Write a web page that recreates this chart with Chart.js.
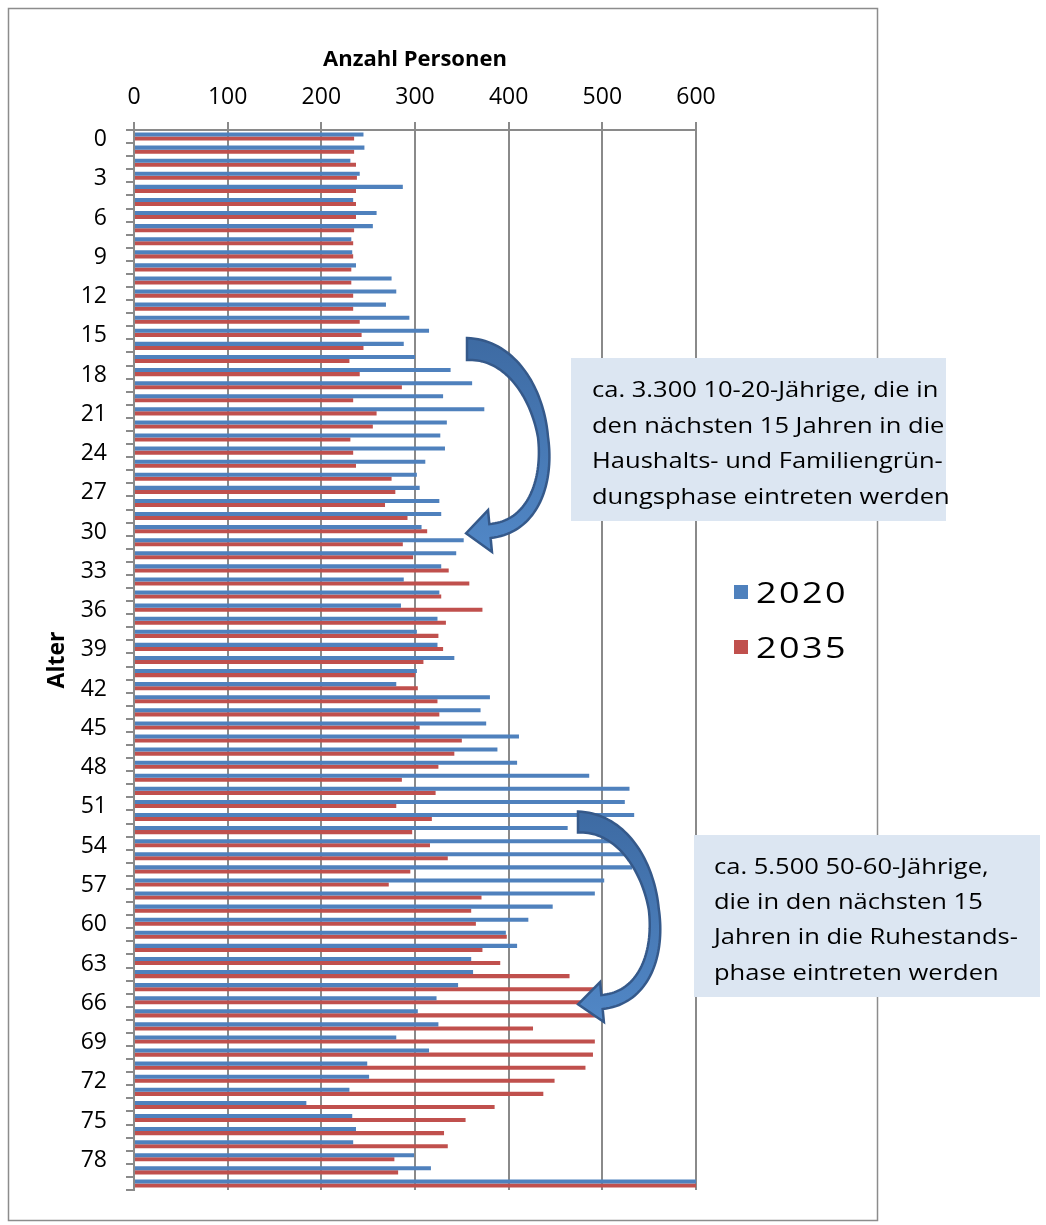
<!DOCTYPE html>
<html>
<head>
<meta charset="utf-8">
<script src="https://cdn.jsdelivr.net/npm/chart.js@4.4.0/dist/chart.umd.min.js"></script>
<style>
html,body{margin:0;padding:0;background:#fff;}
#wrap{width:1046px;height:1225px;position:relative;}
canvas{display:block;}
</style>
</head>
<body>
<div id="wrap"><canvas id="c" width="1046" height="1225"></canvas></div>
<script>
// ---- data ----
const ages = ['0','1','2','3','4','5','6','7','8','9','10','11','12','13','14','15','16','17','18','19','20',
  '21','22','23','24','25','26','27','28','29','30','31','32','33','34','35','36','37','38','39','40',
  '41','42','43','44','45','46','47','48','49','50','51','52','53','54','55','56','57','58','59','60',
  '61','62','63','64','65','66','67','68','69','70','71','72','73','74','75','76','77','78','79','80'];
const values2020 = [245,246,231,241,287,234,259,255,232,233,237,275,280,269,294,315,288,300,338,361,330,
  374,334,327,332,311,302,305,326,328,307,352,344,328,288,326,285,324,302,324,342,
  302,280,380,370,376,411,388,409,486,529,524,534,463,527,528,532,502,492,447,421,
  397,409,360,362,346,323,303,325,280,315,249,251,230,184,233,237,234,299,317,720];
const values2035 = [235,235,237,238,237,237,237,235,234,234,232,232,234,234,241,243,245,230,241,286,234,
  259,255,231,234,237,275,279,268,292,313,287,298,336,358,328,372,333,325,330,309,
  300,303,324,326,305,350,342,325,286,322,280,318,297,316,335,295,272,371,360,365,
  398,372,391,465,498,494,500,426,492,490,482,449,437,385,354,331,335,278,282,760];
const seriesNames = ['2020','2035'];
const xTickValues = [0,100,200,300,400,500,600];
const labelEvery = 3;
const xTitle = 'Anzahl Personen';
const yTitle = 'Alter';
const note1 = ['ca. 3.300 10-20-Jährige, die in','den nächsten 15 Jahren in die','Haushalts- und Familiengrün-','dungsphase eintreten werden'];
const note2 = ['ca. 5.500 50-60-Jährige,','die in den nächsten 15','Jahren in die Ruhestands-','phase eintreten werden'];

const BLUE = '#4F81BD', RED = '#C0504D', GRID = '#8a8a8a';
const FONT = "'Open Sans', 'Noto Sans', sans-serif";

// ---- helpers for decoration ----
function bez(p0,p1,p2,p3,t){const u=1-t;return [u*u*u*p0[0]+3*u*u*t*p1[0]+3*u*t*t*p2[0]+t*t*t*p3[0],u*u*u*p0[1]+3*u*u*t*p1[1]+3*u*t*t*p2[1]+t*t*t*p3[1]];}
function bezD(p0,p1,p2,p3,t){const u=1-t;return [3*u*u*(p1[0]-p0[0])+6*u*t*(p2[0]-p1[0])+3*t*t*(p3[0]-p2[0]),3*u*u*(p1[1]-p0[1])+6*u*t*(p2[1]-p1[1])+3*t*t*(p3[1]-p2[1])];}
function drawArrow(ctx,a){
  const N=80,outer=[],inner=[];
  let lastD,lastN;
  for(let i=0;i<=N;i++){
    const t=i/N;const P=bez(a.p0,a.p1,a.p2,a.p3,t);const D=bezD(a.p0,a.p1,a.p2,a.p3,t);
    const L=Math.hypot(D[0],D[1]);const d=[D[0]/L,D[1]/L];const n=[d[1],-d[0]];
    const w=t<0.5?a.w0+(a.wm-a.w0)*(t/0.5):a.wm+(a.w1-a.wm)*((t-0.5)/0.5);
    outer.push([P[0]+n[0]*w,P[1]+n[1]*w]);inner.push([P[0]-n[0]*w,P[1]-n[1]*w]);
    lastD=d;lastN=n;
  }
  const E=a.p3;
  ctx.save();
  const g=ctx.createLinearGradient(0,a.p0[1]-15,0,a.p3[1]+20);
  g.addColorStop(0,'#3d6aa2');g.addColorStop(1,'#5187c6');
  ctx.beginPath();
  ctx.moveTo(outer[0][0],outer[0][1]);
  for(let i=1;i<=N;i++)ctx.lineTo(outer[i][0],outer[i][1]);
  ctx.lineTo(E[0]+lastN[0]*a.hh,E[1]+lastN[1]*a.hh);
  ctx.lineTo(E[0]+lastD[0]*a.hl,E[1]+lastD[1]*a.hl);
  ctx.lineTo(E[0]-lastN[0]*a.hh,E[1]-lastN[1]*a.hh);
  for(let i=N;i>=0;i--)ctx.lineTo(inner[i][0],inner[i][1]);
  ctx.closePath();
  ctx.fillStyle=g;ctx.fill();
  ctx.lineWidth=2.5;ctx.strokeStyle='#35598a';ctx.lineJoin='miter';ctx.stroke();
  ctx.restore();
}
function stretchedText(ctx,text,x,y,sx){
  ctx.save();ctx.translate(x,y);ctx.scale(sx,1);ctx.fillText(text,0,0);ctx.restore();
}
function drawNote(ctx,box,lines,tx,baselines){
  ctx.save();
  ctx.fillStyle='#DCE6F2';
  ctx.fillRect(box[0],box[1],box[2],box[3]);
  ctx.fillStyle='#000';
  ctx.font='22px '+FONT;
  ctx.textBaseline='alphabetic';ctx.textAlign='left';
  lines.forEach((l,i)=>stretchedText(ctx,l,tx,baselines[i],1.16));
  ctx.restore();
}

const decoPlugin = {
  id:'deco',
  beforeDraw(chart){
    const ctx=chart.ctx;
    ctx.save();
    ctx.fillStyle='#fff';ctx.fillRect(0,0,chart.width,chart.height);
    ctx.strokeStyle='#8c8c8c';ctx.lineWidth=1.5;
    ctx.strokeRect(8.5,8.5,869,1212);
    ctx.restore();
  },
  afterDraw(chart){
    const ctx=chart.ctx;
    // arrows
    drawArrow(ctx,{p0:[467,349],p1:[553,349],p2:[576,523],p3:[490,531],w0:11,wm:5,w1:7,hh:21,hl:24});
    drawArrow(ctx,{p0:[578,822],p1:[663,822],p2:[687,994],p3:[602,1002],w0:10.5,wm:5,w1:7,hh:20,hl:24});
    // notes
    drawNote(ctx,[571,358,375,163],note1,592,[397,432.5,468,503.5]);
    drawNote(ctx,[694,835,346,162],note2,714,[874,909,944,980]);
    // legend
    ctx.save();
    const colors=[BLUE,RED];const ys=[592,647];
    ctx.font='29px '+FONT;ctx.textBaseline='alphabetic';
    try{ctx.letterSpacing='2px';}catch(e){}
    seriesNames.forEach((s,i)=>{
      ctx.fillStyle=colors[i];ctx.fillRect(734,ys[i]-7,14,14);
      ctx.fillStyle='#000';stretchedText(ctx,s,756,ys[i]+10.5,1.24);
    });
    ctx.restore();
  }
};

new Chart(document.getElementById('c'),{
  type:'bar',
  data:{
    labels:ages,
    datasets:[
      {label:seriesNames[0],data:values2020,backgroundColor:BLUE,borderWidth:0,categoryPercentage:0.62,barPercentage:1.0},
      {label:seriesNames[1],data:values2035,backgroundColor:RED,borderWidth:0,categoryPercentage:0.62,barPercentage:1.0}
    ]
  },
  options:{
    indexAxis:'y',
    responsive:false,
    animation:false,
    devicePixelRatio:1,
    layout:{padding:{left:30,top:20,right:350,bottom:35}},
    plugins:{legend:{display:false},tooltip:{enabled:false}},
    scales:{
      x:{
        position:'top',min:0,max:600,
        afterBuildTicks(scale){scale.ticks=xTickValues.map(v=>({value:v}));},
        afterFit(scale){scale.height=110;},
        ticks:{font:{family:FONT,size:23},color:'#000',padding:11},
        grid:{color:GRID,lineWidth:2,tickLength:8,drawTicks:true},
        border:{display:true,color:GRID,width:2},
        title:{display:true,text:xTitle,font:{family:FONT,size:22,weight:'bold'},color:'#000',padding:{top:27,bottom:0}}
      },
      y:{
        afterFit(scale){scale.width=104;},
        ticks:{autoSkip:false,font:{family:FONT,size:23},color:'#000',padding:19,labelOffset:3,
          callback(value,index){return index%labelEvery===0?this.getLabelForValue(value):'';}},
        grid:{drawOnChartArea:false,color:GRID,lineWidth:2,tickLength:8,offset:true},
        border:{display:true,color:GRID,width:2},
        title:{display:true,text:yTitle,font:{family:FONT,size:23,weight:'bold'},color:'#000',padding:{top:14,bottom:0}}
      }
    }
  },
  plugins:[decoPlugin]
});
</script>
</body>
</html>
